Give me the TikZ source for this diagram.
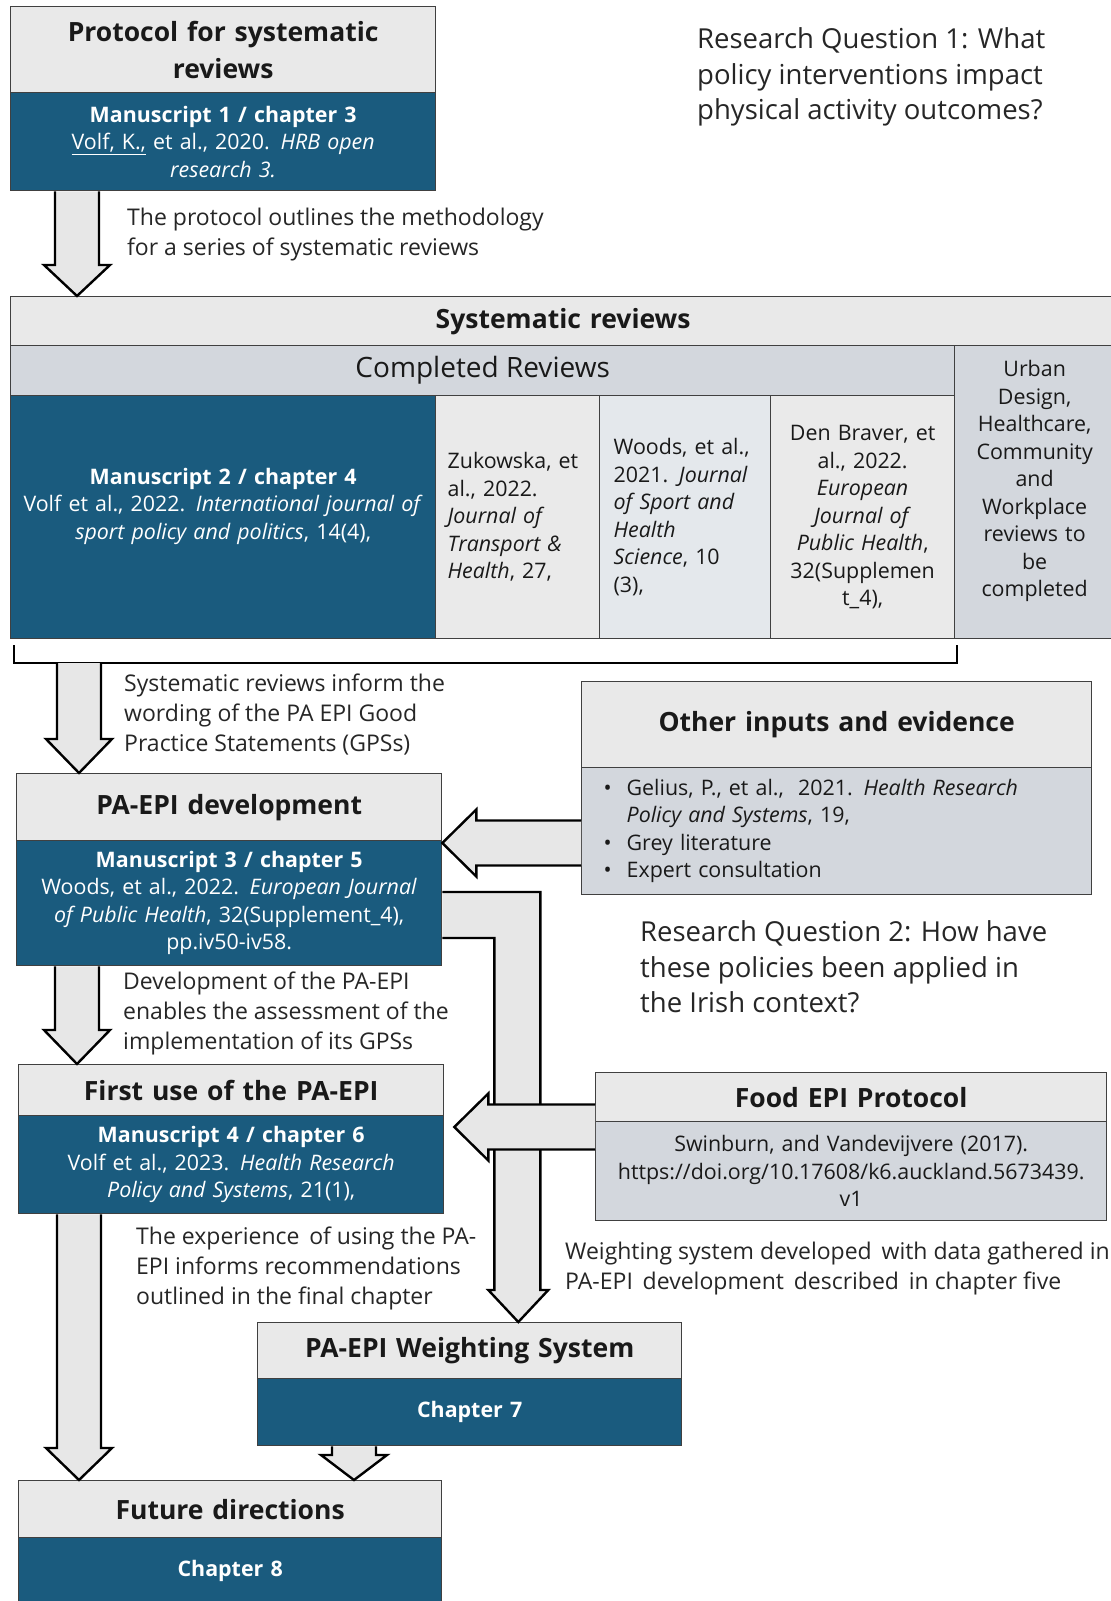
\documentclass[tikz,border=0pt]{standalone}
\usepackage{fontspec}
\setmainfont{Open Sans}
\usetikzlibrary{calc}
\definecolor{pablue}{RGB}{26,91,126}
\definecolor{hdrgrey}{RGB}{233,233,233}
\definecolor{bodygrey}{RGB}{211,215,221}
\definecolor{cellgrey}{RGB}{234,234,234}
\definecolor{cellblue}{RGB}{228,232,236}
\definecolor{arrowgrey}{RGB}{231,231,231}
\definecolor{boxline}{RGB}{64,64,64}
\definecolor{txtgrey}{RGB}{38,38,38}
\newcommand{\hdrfont}{\fontsize{26.5}{37}\selectfont\bfseries}
\newcommand{\cellfont}{\fontsize{21.4}{27.5}\selectfont}
\newcommand{\notefont}{\fontsize{23}{30}\selectfont}
\newcommand{\rqfont}{\fontsize{27.5}{35.5}\selectfont}
% hollow block arrows: start point, end point (only its y is used), head length
\newcommand{\blockdown}[3]{%
  \draw[blockarr] let \p1=(#1), \p2=(#2) in
    (\x1-22pt,\y1) -- (\x1-22pt,\y2+#3) -- (\x1-33pt,\y2+#3) -- (\x1,\y2)
    -- (\x1+33pt,\y2+#3) -- (\x1+22pt,\y2+#3) -- (\x1+22pt,\y1);}
\newcommand{\blockleft}[2]{%
  \draw[blockarr] let \p1=(#1), \p2=(#2) in
    (\x1,\y1+22.5pt) -- (\x2+34pt,\y1+22.5pt) -- (\x2+34pt,\y1+33.5pt) -- (\x2,\y1)
    -- (\x2+34pt,\y1-33.5pt) -- (\x2+34pt,\y1-22.5pt) -- (\x1,\y1-22.5pt);}
\begin{document}
\begin{tikzpicture}[x=1pt,y=-1pt,
    every node/.style={inner sep=0pt},
    hdr/.style={draw=boxline,line width=1.3pt,fill=hdrgrey,anchor=north west,align=center,font=\hdrfont,text=black!90},
    blue/.style={draw=boxline,line width=1.3pt,fill=pablue,anchor=north west,align=center,font=\cellfont,text=white},
    cell/.style={draw=boxline,line width=1.3pt,anchor=north west,font=\cellfont,text=black!90},
    note/.style={anchor=west,align=left,font=\notefont,text=txtgrey},
    blockarr/.style={draw=black,line width=2.4pt,fill=arrowgrey,line join=miter},
    brk/.style={draw=black,line width=2pt}]
  \useasboundingbox (0,0) rectangle (1111,1601);
  \fill[white] (0,0) rectangle (1111,1601);

  \node[hdr,minimum width=425pt,minimum height=86pt,text width=405pt] (prothdr) at (10,6) {Protocol for systematic\\reviews};
  \node[blue,minimum width=425pt,minimum height=98pt,text width=405pt] (protbody) at (10,92)
    {\textbf{Manuscript 1 / chapter 3}\\\underline{Volf, K.,} et al., 2020. \textit{HRB open}\\\textit{research 3.}};
  \node[note,font=\rqfont] (rq1) at (697,77) {Research Question 1: What\\policy interventions impact\\physical activity outcomes?};
  \node[note] (lab1) at (127,235) {The protocol outlines the methodology\\for a series of systematic reviews};

  \node[hdr,minimum width=1105pt,minimum height=49pt,text width=1085pt] (syshdr) at (10,296) {Systematic reviews};
  \node[cell,fill=bodygrey,minimum width=944pt,minimum height=50pt,align=center,font=\fontsize{28}{34}\selectfont] (comprow) at (10,345) {Completed Reviews};
  \node[blue,minimum width=425pt,minimum height=243pt,text width=405pt] (c1) at (10,395)
    {\textbf{Manuscript 2 / chapter 4}\\Volf et al., 2022. \textit{International journal of}\\\textit{sport policy and politics}, 14(4),\\\mbox{}};
  \node[cell,fill=cellgrey,minimum width=164pt,minimum height=243pt,text width=140pt,align=left] (c2) at (435,395)
    {Zukowska, et\\al., 2022.\\\textit{Journal of}\\\textit{Transport \&}\\\textit{Health}, 27,};
  \node[cell,fill=cellblue,minimum width=171pt,minimum height=243pt,text width=143pt,align=left] (c3) at (599,395)
    {Woods, et al.,\\2021. \textit{Journal}\\\textit{of Sport and}\\\textit{Health}\\\textit{Science}, 10\\(3),};
  \node[cell,fill=cellgrey,minimum width=184pt,minimum height=243pt,text width=168pt,align=center] (c4) at (770,395)
    {Den Braver, et\\al., 2022.\\\textit{European}\\\textit{Journal of}\\\textit{Public Health},\\32(Supplemen\\t\_4),};
  \node[cell,fill=bodygrey,minimum width=160pt,minimum height=293pt,text width=148pt,align=center] (c5) at (954,345)
    {Urban\\Design,\\Healthcare,\\Community\\and\\Workplace\\reviews to\\be\\completed\\\mbox{}};
  \draw[brk] (14,645) |- (957,663) -- (957,645);
  \coordinate (brk) at (79,663);
  \blockdown{$(protbody.south west)+(67,0)$}{syshdr.north}{31pt}

  \node[note] (lab2) at (124,715) {Systematic reviews inform the\\wording of the PA EPI Good\\Practice Statements (GPSs)};
  \node[hdr,minimum width=510pt,minimum height=86pt,text width=490pt] (othhdr) at (581,681) {Other inputs and evidence};
  \node[cell,fill=bodygrey,minimum width=510pt,minimum height=127pt,text width=466pt,align=left] (othbody) at (581,767)
    {\makebox[23pt][l]{\textbullet}Gelius, P., et al., \ 2021. \textit{Health Research}\\\hspace*{23pt}\textit{Policy and Systems}, 19,\\\makebox[23pt][l]{\textbullet}Grey literature\\\makebox[23pt][l]{\textbullet}Expert consultation};
  \node[hdr,minimum width=425pt,minimum height=67pt,text width=405pt] (epihdr) at (16,773) {PA-EPI development};
  \node[blue,minimum width=425pt,minimum height=125pt,text width=405pt] (epibody) at (16,840)
    {\textbf{Manuscript 3 / chapter 5}\\Woods, et al., 2022. \textit{European Journal}\\\textit{of Public Health}, 32(Supplement\_4),\\pp.iv50-iv58.};
  \blockdown{brk}{epihdr.north}{34pt}
  \blockleft{$(othbody.north west)+(0,76)$}{epibody.north east}
  \node[note,font=\rqfont] (rq2) at (640,967) {Research Question 2: How have\\these policies been applied in\\the Irish context?};

  \node[hdr,minimum width=425pt,minimum height=51pt,text width=405pt] (usehdr) at (18,1064) {First use of the PA-EPI};
  \node[blue,minimum width=425pt,minimum height=98pt,text width=405pt] (usebody) at (18,1115)
    {\textbf{Manuscript 4 / chapter 6}\\Volf et al., 2023. \textit{Health Research}\\\textit{Policy and Systems}, 21(1),};
  \node[hdr,minimum width=511pt,minimum height=49pt,text width=491pt] (foodhdr) at (595,1072) {Food EPI Protocol};
  \node[cell,fill=bodygrey,minimum width=511pt,minimum height=99pt,text width=491pt,align=center] (foodbody) at (595,1121)
    {Swinburn, and Vandevijvere (2017).\\https://doi.org/10.17608/k6.auckland.5673439.\\v1};
  \node[hdr,minimum width=424pt,minimum height=56pt,text width=404pt] (wshdr) at (257,1322) {PA-EPI Weighting System};
  \node[blue,minimum width=424pt,minimum height=67pt,text width=404pt,font=\cellfont\bfseries] (wsbody) at (257,1378) {Chapter 7};
  \draw[blockarr] let \p1=(epibody.north east), \p2=(wshdr.north) in
    (\x1,\y1-52pt) -- (\x1+98pt,\y1-52pt) -- (\x1+98pt,\y2+32pt) -- (\x1+106pt,\y2+32pt) -- (\x1+76pt,\y2)
    -- (\x1+46pt,\y2+32pt) -- (\x1+52pt,\y2+32pt) -- (\x1+52pt,\y1-98pt) -- (\x1,\y1-98pt);
  \blockdown{$(epibody.south west)+(61,0)$}{usehdr.north}{34pt}
  \blockleft{$(foodbody.north west)+(0,6)$}{$(usebody.north east)+(10,0)$}
  \node[note] (lab3) at (123,1013) {Development of the PA-EPI\\enables the assessment of the\\implementation of its GPSs};
  \node[note] (lab4) at (136,1268) {The experience \,of using the PA-\\EPI informs recommendations\\outlined in the final chapter};
  \node[note] (lab5) at (565,1269) {Weighting system developed \,with data gathered in\\PA-EPI \,development \,described \,in chapter five};

  \node[hdr,minimum width=423pt,minimum height=57pt,text width=403pt] (futhdr) at (18,1480) {Future directions};
  \node[blue,minimum width=423pt,minimum height=66pt,text width=403pt,font=\cellfont\bfseries] (futbody) at (18,1537) {Chapter 8};
  \blockdown{$(usebody.south west)+(61,0)$}{futhdr.north}{32pt}
  \blockdown{$(wsbody.south west)+(97,0)$}{futhdr.north}{25pt}
\end{tikzpicture}
\end{document}
